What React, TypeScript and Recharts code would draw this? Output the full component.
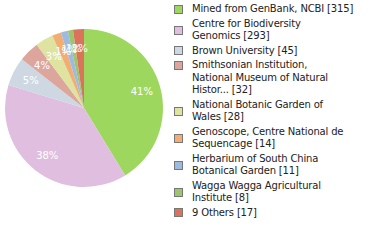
import { Legend, Pie, PieChart, Cell } from "recharts"

const names = [
  "Mined from GenBank, NCBI",
  "Centre for Biodiversity Genomics",
  "Brown University",
  "Smithsonian Institution, National Museum of Natural Histor...",
  "National Botanic Garden of Wales",
  "Genoscope, Centre National de Sequencage",
  "Herbarium of South China Botanical Garden",
  "Wagga Wagga Agricultural Institute",
  "9 Others",
]

const counts = [315, 293, 45, 32, 28, 14, 11, 8, 17]

// how the legend text is broken into lines
const legendLines = [
  ["Mined from GenBank, NCBI [315]"],
  ["Centre for Biodiversity", "Genomics [293]"],
  ["Brown University [45]"],
  ["Smithsonian Institution,", "National Museum of Natural", "Histor... [32]"],
  ["National Botanic Garden of", "Wales [28]"],
  ["Genoscope, Centre National de", "Sequencage [14]"],
  ["Herbarium of South China", "Botanical Garden [11]"],
  ["Wagga Wagga Agricultural", "Institute [8]"],
  ["9 Others [17]"],
]

const COLORS = [
  "#9ed75d",
  "#dfbedf",
  "#cdd8e2",
  "#dca69d",
  "#dee3a0",
  "#f1ad72",
  "#9ebbdf",
  "#9dc56d",
  "#d9735c",
]

const data = names.map((name, i) => ({ name, value: counts[i] }))
const total = counts.reduce((a, b) => a + b, 0)

const RAD = Math.PI / 180
const FONT = "'DejaVu Sans', Verdana, sans-serif"

const renderLabel = (props: any) => {
  const { cx, cy, midAngle, outerRadius, value } = props
  const r = outerRadius * 0.76
  const x = cx + r * Math.cos(-midAngle * RAD)
  const y = cy + r * Math.sin(-midAngle * RAD)
  const pct = Math.floor((value / total) * 100)
  return (
    <text
      x={x}
      y={y}
      fill="#fff"
      fontSize={10}
      fontFamily={FONT}
      textAnchor="middle"
      dominantBaseline="central"
    >
      {`${pct}%`}
    </text>
  )
}

const renderLegend = () => (
  <div
    style={{
      fontFamily: FONT,
      fontSize: 10,
      letterSpacing: "-0.16px",
      color: "#222",
      lineHeight: "12.5px",
    }}
  >
    {legendLines.map((lines, i) => {
      const h = lines.length * 12.5
      const top = lines.length === 3 ? 2 : (h - 9) / 2
      return (
        <div key={i} style={{ position: "relative", paddingLeft: 18, marginBottom: 2, height: h }}>
          <span
            style={{
              position: "absolute",
              left: 0,
              top,
              width: 7,
              height: 7,
              background: COLORS[i],
              border: "1px solid #777",
            }}
          />
          {lines.map((l, j) => (
            <div key={j} style={{ whiteSpace: "nowrap" }}>
              {l}
            </div>
          ))}
        </div>
      )
    })}
  </div>
)

export default function App() {
  return (
    <div style={{ position: "absolute", left: 0, top: 0, width: 380, height: 240, background: "#fff" }}>
      <PieChart width={380} height={240} margin={{ top: 0, right: 0, bottom: 0, left: 0 }}>
        <Pie
          data={data}
          dataKey="value"
          cx={84}
          cy={108}
          outerRadius={79}
          startAngle={90}
          endAngle={-270}
          stroke="none"
          labelLine={false}
          label={renderLabel}
          isAnimationActive={false}
        >
          {data.map((entry, index) => (
            <Cell key={`cell-${index}`} fill={COLORS[index % COLORS.length]} />
          ))}
        </Pie>
        <Legend
          layout="vertical"
          content={renderLegend}
          wrapperStyle={{ left: 174, top: 3, width: 206 }}
        />
      </PieChart>
    </div>
  )
}
